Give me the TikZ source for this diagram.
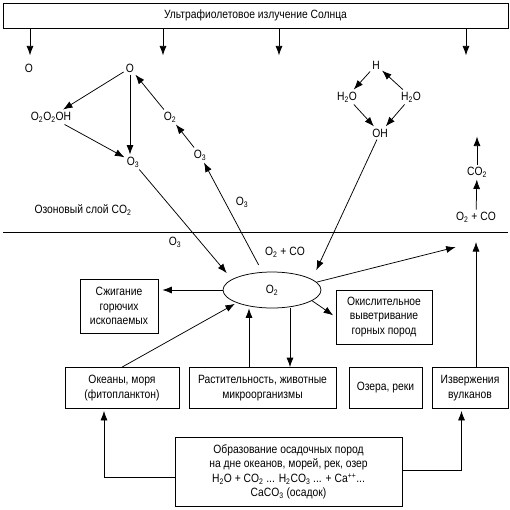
\documentclass[tikz,border=0pt]{standalone}
\usepackage{fontspec}
\setmainfont[FakeStretch=0.86]{Liberation Sans}
\usetikzlibrary{arrows.meta,shapes.geometric}
\newcommand{\ix}[1]{\textsubscript{#1}}

\begin{document}
\begin{tikzpicture}[x=1pt,y=-1pt,line width=0.75pt,
  every node/.style={font=\fontsize{12}{14.5}\selectfont},
  arr/.style={-{Latex[length=9.5pt,width=7pt]}},
  chem/.style={inner sep=2pt},
  box/.style={draw,align=center,inner sep=2pt}]
  \useasboundingbox (0,0) rectangle (510,509);

  % sun and the upper layer
  \node[draw,minimum width=505,minimum height=25] (sun) at (255.5,15.5) {Ультрафиолетовое излучение Солнца};
  \foreach \dx in {-225.5,-92.5,23.5,210.5}
    \draw[arr] ([xshift=\dx pt]sun.south) -- ++(0,27);

  \node[chem] (o1) at (29,68) {O};
  \node[chem] (o2) at (130,68) {O};
  \node[chem] (oooh) at (51,117) {O\ix{2}O\ix{2}OH};
  \node[chem] (o2a) at (170,117) {O\ix{2}};
  \node[chem] (o3a) at (133,162) {O\ix{3}};
  \node[chem] (o3b) at (200,155) {O\ix{3}};
  \node[chem] (o3c) at (242,202) {O\ix{3}};
  \node[chem] (ozone) at (83,210) {Озоновый слой CO\ix{2}};
  \node[chem] (o3d) at (175,242) {O\ix{3}};

  \node[chem] (h) at (376,65) {H};
  \node[chem] (h2oa) at (347,97) {H\ix{2}O};
  \node[chem] (h2ob) at (411,97) {H\ix{2}O};
  \node[chem] (oh) at (380,133) {OH};

  \node[chem] (co2) at (477,172) {CO\ix{2}};
  \node[chem] (o2co) at (476,217) {O\ix{2} + CO};
  \coordinate (rise) at (476,242);

  \draw (3,232) -- (508,232);

  % oxygen and the ground
  \node[chem] (o2cob) at (285,252) {O\ix{2} + CO};
  \node[draw,ellipse,minimum width=98,minimum height=36] (el) at (272,290) {O\ix{2}};

  \node[box,minimum width=78,minimum height=54] (burn) at (119,306) {Сжигание\\горючих\\ископаемых};
  \node[box,minimum width=96,minimum height=54] (weather) at (384,317) {Окислительное\\выветривание\\горных пород};
  \node[box,minimum width=114,minimum height=41] (ocean) at (122,388) {Океаны, моря\\(фитопланктон)};
  \node[box,minimum width=147,minimum height=41] (plants) at (262.5,388) {Растительность, животные\\микроорганизмы};
  \node[box,minimum width=73,minimum height=41] (lakes) at (385.5,388) {Озера, реки};
  \node[box,minimum width=76,minimum height=41] (volc) at (470,388) {Извержения\\вулканов};
  \node[box,minimum width=227,minimum height=69] (sed) at (288.5,472)
    {Образование осадочных пород\\на дне океанов, морей, рек, озер\\
     H\ix{2}O + CO\ix{2} ... H\ix{2}CO\ix{3} ... + Ca\textsuperscript{++}...\\CaCO\ix{3} (осадок)};

  % upper arrows
  \draw[arr] (o2) -- (oooh);
  \draw[arr] (o2.south) -- (o2.south |- o3a.north);
  \draw[arr] (oooh) -- (o3a);
  \draw[arr] (o2a) -- (o2);
  \draw[arr] (o3b) -- (o2a);
  \draw[arr,shorten <=8pt] (el) -- (o3b);
  \draw[arr,shorten >=8pt] (o3a) -- (el.165);
  \draw[arr] (h) -- (h2oa);
  \draw[arr] (h2ob) -- (h);
  \draw[arr] (h2oa) -- (oh);
  \draw[arr] (h2ob) -- (oh);
  \draw[arr,shorten >=10pt] (oh) -- (el.15);
  \draw[arr] (o2co) -- (co2);
  \draw[arr] (co2.north) -- ++(0,-28);

  % lower arrows
  \draw[arr,shorten >=4pt] (el.west) -- (el.west -| burn.east);
  \draw[arr,shorten >=3pt] (el.-15) -- (weather.west);
  \draw[arr,shorten >=21pt] (el.10) -- (rise);
  \draw[arr] (volc.north -| rise) -- (rise);
  \draw[arr,shorten >=2pt] (ocean.north) -- (el.200);
  \draw[arr] ([xshift=-13.5pt]plants.north) -- ([xshift=-13.5pt]plants.north |- el.south);
  \draw[arr] ([xshift=27.5pt]plants.north |- el.south) -- ([xshift=27.5pt]plants.north);
  \draw[arr,shorten >=2pt] ([yshift=-5pt]sed.west) -| ([xshift=-18pt]ocean.south);
  \draw[arr,shorten >=2pt] ([yshift=2pt]sed.east) -| ([xshift=-8.5pt]volc.south);
\end{tikzpicture}
\end{document}
